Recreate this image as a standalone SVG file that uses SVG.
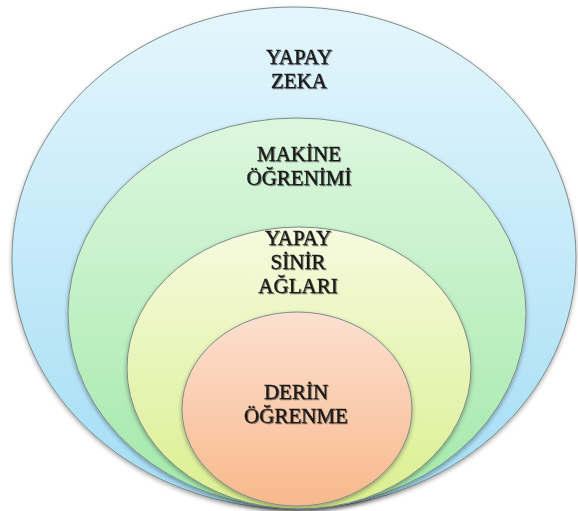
<svg xmlns="http://www.w3.org/2000/svg" width="578" height="511" viewBox="0 0 578 511">
  <defs>
    <linearGradient id="gBlue" x1="0" y1="0" x2="0" y2="1">
      <stop offset="0" stop-color="#e4f6fc"/>
      <stop offset="1" stop-color="#a3ddf5"/>
    </linearGradient>
    <linearGradient id="gGreen" x1="0" y1="0" x2="0" y2="1">
      <stop offset="0" stop-color="#ddf7df"/>
      <stop offset="1" stop-color="#a2e9a9"/>
    </linearGradient>
    <linearGradient id="gYellow" x1="0" y1="0" x2="0" y2="1">
      <stop offset="0" stop-color="#f6fadf"/>
      <stop offset="1" stop-color="#dbef8e"/>
    </linearGradient>
    <linearGradient id="gOrange" x1="0" y1="0" x2="0" y2="1">
      <stop offset="0" stop-color="#fce0d0"/>
      <stop offset="1" stop-color="#f8b98b"/>
    </linearGradient>
    <filter id="shadow" x="-10%" y="-10%" width="120%" height="125%">
      <feDropShadow dx="0" dy="2" stdDeviation="2" flood-color="#000" flood-opacity="0.35"/>
    </filter>
    <filter id="tshadow" x="-10%" y="-20%" width="120%" height="150%">
      <feDropShadow dx="1" dy="1" stdDeviation="0.6" flood-color="#000" flood-opacity="0.45"/>
    </filter>
  </defs>
  <style>
    .ring { stroke: #7d8b8b; stroke-width: 1; filter: url(#shadow); }
    .lbl { font-family: "Liberation Serif", "Times New Roman", serif; font-size: 21px; fill: #1a1a1a; stroke: #1a1a1a; stroke-width: 0.35; text-anchor: middle; filter: url(#tshadow); }
  </style>
  <rect width="578" height="511" fill="#ffffff"/>
  <g id="yapay-zeka">
    <ellipse class="ring" cx="294" cy="258" rx="282" ry="251" fill="url(#gBlue)"/>
    <text class="lbl" x="299" y="64"><tspan x="299">YAPAY</tspan><tspan x="299" dy="24">ZEKA</tspan></text>
  </g>
  <g id="makine-ogrenimi">
    <ellipse class="ring" cx="297" cy="313" rx="229" ry="195" fill="url(#gGreen)"/>
    <text class="lbl" x="299" y="161"><tspan x="299">MAKİNE</tspan><tspan x="299" dy="24">ÖĞRENİMİ</tspan></text>
  </g>
  <g id="yapay-sinir-aglari">
    <ellipse class="ring" cx="299" cy="368" rx="172" ry="141" fill="url(#gYellow)"/>
    <text class="lbl" x="298" y="245"><tspan x="298">YAPAY</tspan><tspan x="298" dy="24">SİNİR</tspan><tspan x="298" dy="24">AĞLARI</tspan></text>
  </g>
  <g id="derin-ogrenme">
    <ellipse class="ring" cx="297" cy="409" rx="115" ry="97" fill="url(#gOrange)"/>
    <text class="lbl" x="296" y="399"><tspan x="296">DERİN</tspan><tspan x="296" dy="24">ÖĞRENME</tspan></text>
  </g>
  <g id="connectors"/>
</svg>
